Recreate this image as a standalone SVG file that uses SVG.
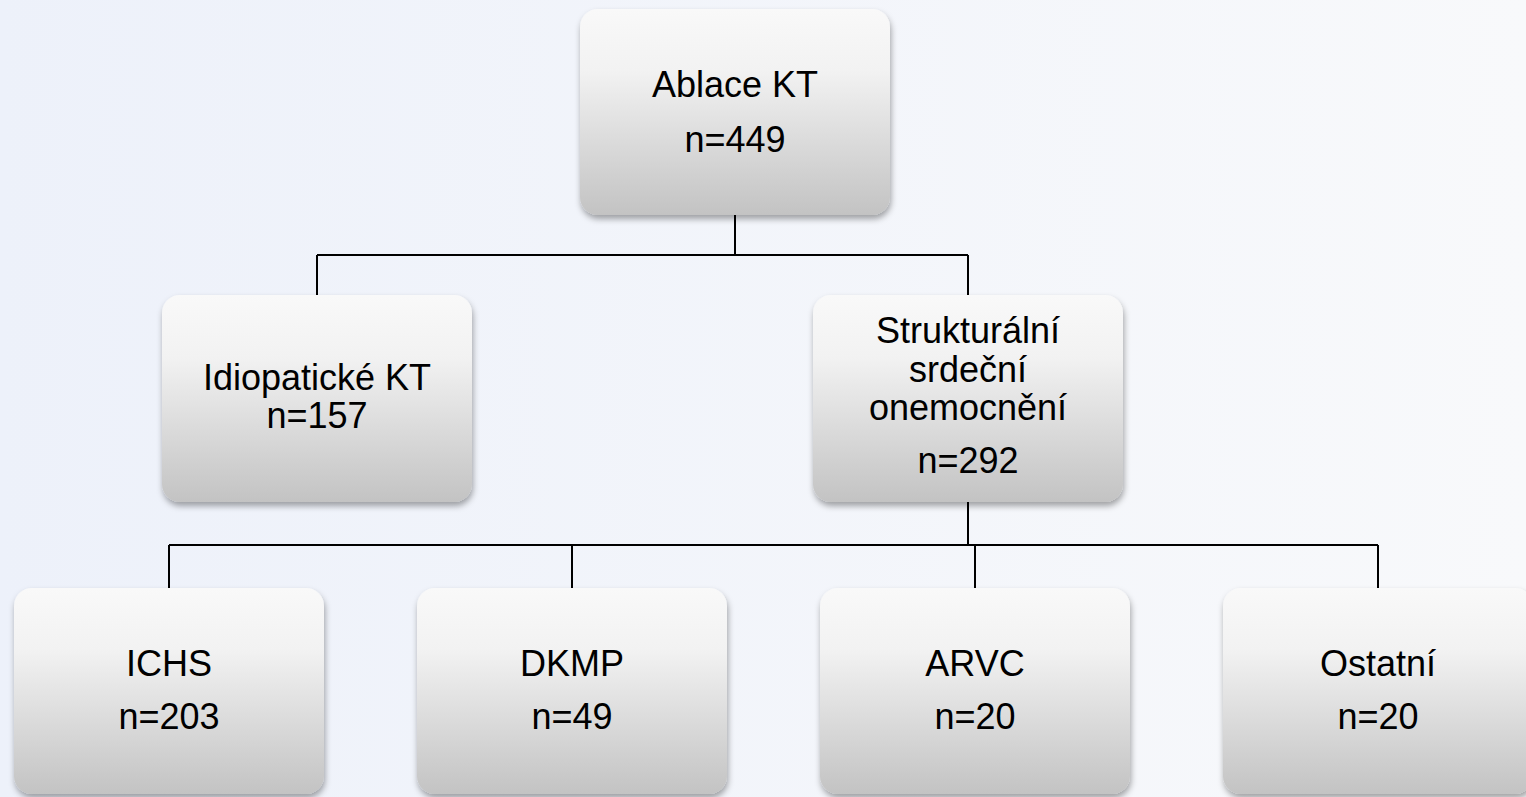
<svg xmlns="http://www.w3.org/2000/svg" width="1526" height="797" viewBox="0 0 1526 797">
  <defs>
    <linearGradient id="bg" x1="0" y1="0" x2="1" y2="0">
      <stop offset="0" stop-color="#EDF1FA"/>
      <stop offset="1" stop-color="#F8F9FB"/>
    </linearGradient>
    <linearGradient id="boxFill" x1="0" y1="0" x2="0" y2="1">
      <stop offset="0" stop-color="#F9F9F9"/>
      <stop offset="0.3" stop-color="#F2F2F2"/>
      <stop offset="1" stop-color="#C3C3C3"/>
    </linearGradient>
    <filter id="shadow" x="-10%" y="-10%" width="120%" height="125%">
      <feDropShadow dx="1" dy="4" stdDeviation="3" flood-color="#000" flood-opacity="0.35"/>
    </filter>
    <style>
      .box { fill: url(#boxFill); filter: url(#shadow); }
      .lbl { font-family: "Liberation Sans", Arial, sans-serif; font-size: 36px; fill: #000; text-anchor: middle; }
      .conn { stroke: #000; stroke-width: 2; fill: none; }
    </style>
  </defs>

  <rect x="0" y="0" width="1526" height="797" fill="url(#bg)"/>

  <!-- connectors -->
  <g id="connectors" class="conn">
    <path d="M735,215 V255 M317,255 H968 M317,255 V295 M968,255 V295"/>
    <path d="M968,502 V545 M169,545 H1378 M169,545 V588 M572,545 V588 M975,545 V588 M1378,545 V588"/>
  </g>

  <!-- root -->
  <g id="ablace">
    <rect class="box" x="580" y="9" width="310" height="206" rx="18"/>
    <text class="lbl" x="735" y="97">Ablace KT</text>
    <text class="lbl" x="735" y="152">n=449</text>
  </g>

  <!-- second level -->
  <g id="idiopaticke">
    <rect class="box" x="162" y="295" width="310" height="207" rx="18"/>
    <text class="lbl" x="317" y="390">Idiopatické KT</text>
    <text class="lbl" x="317" y="428">n=157</text>
  </g>
  <g id="strukturalni">
    <rect class="box" x="813" y="295" width="310" height="207" rx="18"/>
    <text class="lbl" x="968" y="343">Strukturální</text>
    <text class="lbl" x="968" y="382">srdeční</text>
    <text class="lbl" x="968" y="420">onemocnění</text>
    <text class="lbl" x="968" y="473">n=292</text>
  </g>

  <!-- third level -->
  <g id="ichs">
    <rect class="box" x="14" y="588" width="310" height="206" rx="18"/>
    <text class="lbl" x="169" y="676">ICHS</text>
    <text class="lbl" x="169" y="729">n=203</text>
  </g>
  <g id="dkmp">
    <rect class="box" x="417" y="588" width="310" height="206" rx="18"/>
    <text class="lbl" x="572" y="676">DKMP</text>
    <text class="lbl" x="572" y="729">n=49</text>
  </g>
  <g id="arvc">
    <rect class="box" x="820" y="588" width="310" height="206" rx="18"/>
    <text class="lbl" x="975" y="676">ARVC</text>
    <text class="lbl" x="975" y="729">n=20</text>
  </g>
  <g id="ostatni">
    <rect class="box" x="1223" y="588" width="310" height="206" rx="18"/>
    <text class="lbl" x="1378" y="676">Ostatní</text>
    <text class="lbl" x="1378" y="729">n=20</text>
  </g>
</svg>
